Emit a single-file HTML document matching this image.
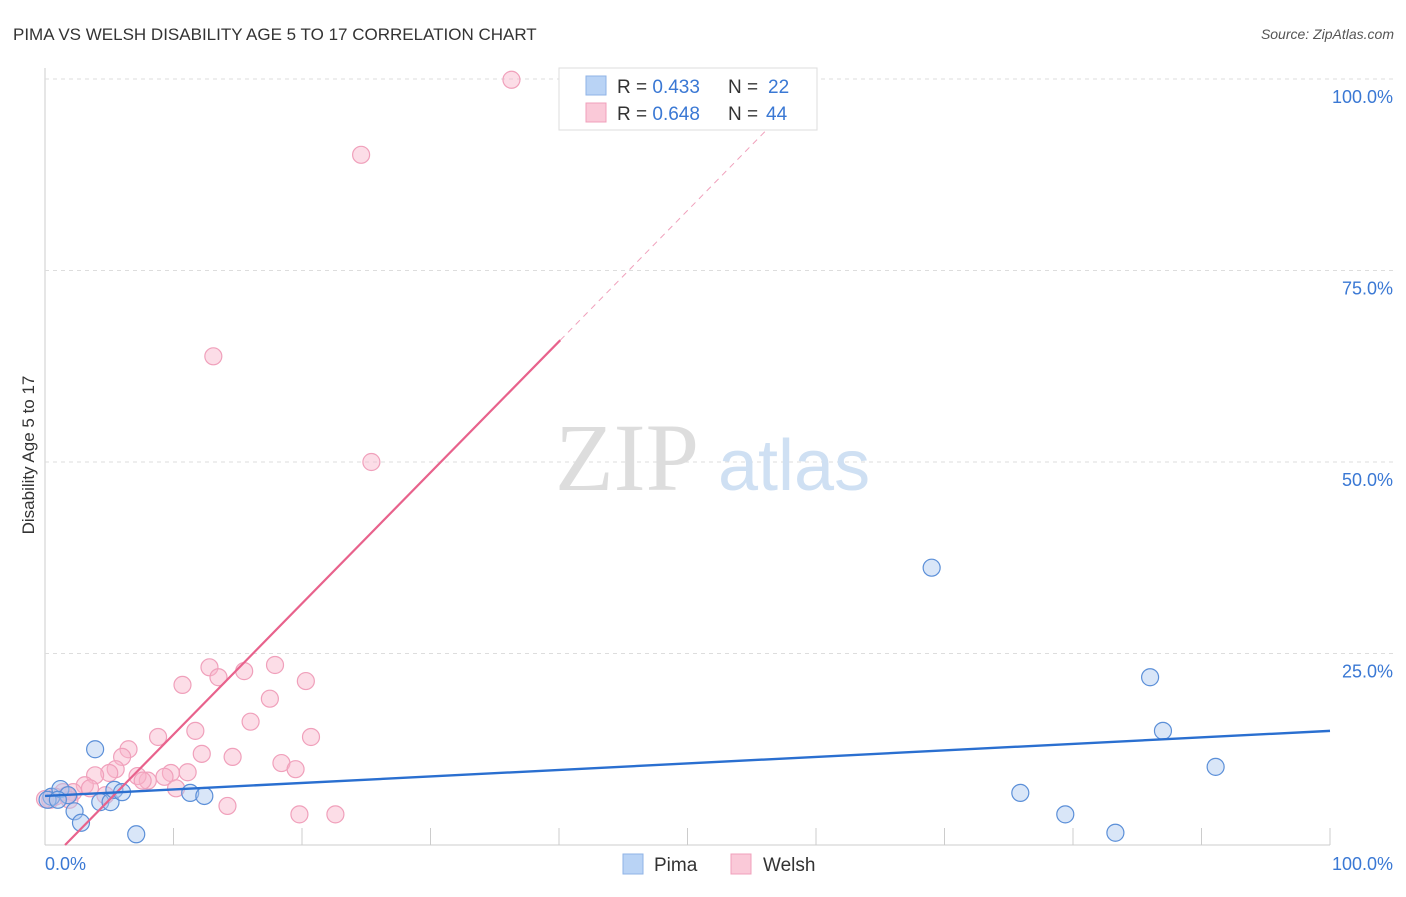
<!DOCTYPE html>
<html><head><meta charset="utf-8"><style>
body{margin:0;background:#fff;font-family:"Liberation Sans",sans-serif;}
</style></head><body>
<svg id="c" width="1406" height="892" xmlns="http://www.w3.org/2000/svg" style="font-family:'Liberation Sans',sans-serif">
<text x="13" y="40" font-size="17" fill="#333">PIMA VS WELSH DISABILITY AGE 5 TO 17 CORRELATION CHART</text>
<text x="1394" y="39" font-size="14" fill="#555" font-style="italic" text-anchor="end">Source: ZipAtlas.com</text>
<g id="grid"></g>
<g><text x="555" y="490" font-size="96" fill="#ddd" font-family="Liberation Serif">ZIP</text><text x="718" y="490" font-size="72" fill="#cfe0f3">atlas</text></g>
<text transform="translate(34,455) rotate(-90)" font-size="17" fill="#333" text-anchor="middle">Disability Age 5 to 17</text>
<g id="marks"></g>
<g>
<rect x="559" y="68" width="258" height="62" fill="#fff" stroke="#ddd"/>
<rect x="586" y="76" width="20" height="19" fill="#b9d3f5" stroke="#8fb3e6"/>
<rect x="586" y="103" width="20" height="19" fill="#fac9d8" stroke="#f0a0bb"/>
<text x="617" y="93" font-size="19" fill="#333">R = <tspan fill="#3a78d4">0.433</tspan><tspan x="728">N = </tspan><tspan x="768" fill="#3a78d4">22</tspan></text>
<text x="617" y="120" font-size="19" fill="#333">R = <tspan fill="#3a78d4">0.648</tspan><tspan x="728">N = </tspan><tspan x="766" fill="#3a78d4">44</tspan></text>
</g>
<g>
<rect x="623" y="854" width="20" height="20" fill="#b9d3f5" stroke="#8fb3e6"/>
<text x="654" y="871" font-size="19" fill="#333">Pima</text>
<rect x="731" y="854" width="20" height="20" fill="#fac9d8" stroke="#f0a0bb"/>
<text x="763" y="871" font-size="19" fill="#333">Welsh</text>
</g>
</svg>
<script>
const pimaX=[0.5,1.2,1.8,2.3,2.8,3.9,4.3,5.1,5.4,6.0,7.1,11.3,12.4,69.0,75.9,79.4,83.3,86.0,87.0,91.1,0.2,1.0];
const pimaY=[6.3,7.3,6.5,4.4,2.9,12.5,5.6,5.6,7.2,6.9,1.4,6.8,6.4,36.2,6.8,4.0,1.6,21.9,14.9,10.2,5.9,5.9];
const welshX=[36.3,24.6,13.1,25.4,12.8,17.9,15.5,13.5,10.7,20.3,17.5,16.0,11.7,20.7,8.8,6.5,12.2,14.6,6.0,18.4,19.5,5.5,11.1,9.8,5.0,3.9,9.3,8.0,7.2,7.6,10.2,3.1,4.7,2.2,1.4,14.2,19.8,22.6,0.4,0.8,0.0,1.7,1.9,3.5];
const welshY=[99.9,90.1,63.8,50.0,23.2,23.5,22.7,21.9,20.9,21.4,19.1,16.1,14.9,14.1,14.1,12.5,11.9,11.5,11.5,10.7,9.9,9.9,9.5,9.4,9.4,9.1,8.9,8.4,9.0,8.4,7.4,7.8,6.5,6.9,6.9,5.1,4.0,4.0,5.9,6.3,6.0,6.5,5.9,7.4];
const yTicks=[25,50,75,100];
const yTickLabels=["25.0%","50.0%","75.0%","100.0%"];
const xTicks=[0,10,20,30,40,50,60,70,80,90,100];
const pimaTrend=[6.4,14.9];
const welshTrend=[-2.67,1.71];
const X=v=>45+v*12.85, Y=v=>845-v*7.66;
const NS="http://www.w3.org/2000/svg";
const grid=document.getElementById('grid'), marks=document.getElementById('marks');
function mk(t,a,p){const e=document.createElementNS(NS,t);for(const k in a)e.setAttribute(k,a[k]);p.appendChild(e);return e;}
mk('line',{x1:45,y1:68,x2:45,y2:845,stroke:'#ccc'},grid);
mk('line',{x1:45,y1:845,x2:1330,y2:845,stroke:'#ccc'},grid);
yTicks.forEach((t,i)=>{
 const l=mk('line',{x1:45,x2:1394,y1:Y(t),y2:Y(t),stroke:'#ddd','stroke-dasharray':'4,4'},grid);
 
 
 const tx=mk('text',{x:1393,y:Y(t)+24,'font-size':18,fill:'#3a78d4','text-anchor':'end'},grid);
 tx.textContent=yTickLabels[i];
 
 
});
xTicks.forEach(t=>{
 const l=mk('line',{x1:X(t),x2:X(t),y1:828,y2:845,stroke:'#ccc'},grid);
 
 
});
let a=mk('text',{x:45,y:870,'font-size':18,fill:'#3a78d4'},grid);a.textContent='0.0%';


a=mk('text',{x:1393,y:870,'font-size':18,fill:'#3a78d4','text-anchor':'end'},grid);a.textContent='100.0%';


welshX.forEach((x,i)=>{
 const c=mk('circle',{cx:X(x),cy:Y(welshY[i]),r:8.5,fill:'rgba(248,180,202,0.45)',stroke:'#f0a0bb','stroke-width':1.2},marks);
 
 
});
pimaX.forEach((x,i)=>{
 const c=mk('circle',{cx:X(x),cy:Y(pimaY[i]),r:8.5,fill:'rgba(170,200,240,0.45)',stroke:'#5b8fd8','stroke-width':1.2},marks);
 
 
});
const x0=-welshTrend[0]/welshTrend[1];
let wl=mk('line',{x1:X(x0),y1:Y(0),x2:X(40.1),y2:Y(welshTrend[0]+welshTrend[1]*40.1),stroke:'#e8628c','stroke-width':2.2},marks);


const xe=(100-welshTrend[0])/welshTrend[1];
wl=mk('line',{x1:X(40.1),y1:Y(welshTrend[0]+welshTrend[1]*40.1),x2:X(xe),y2:Y(100),stroke:'#f0a0bb','stroke-width':1,'stroke-dasharray':'6,5'},marks);


const pl=mk('line',{x1:X(0),y1:Y(pimaTrend[0]),x2:X(100),y2:Y(pimaTrend[1]),stroke:'#2a6fd0','stroke-width':2.4},marks);


</script>
</body></html>
